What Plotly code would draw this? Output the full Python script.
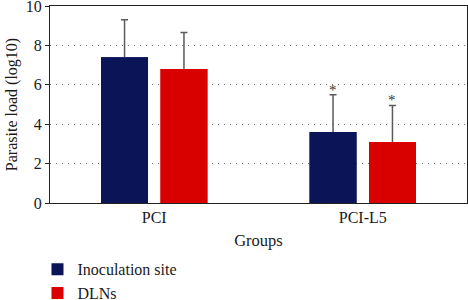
import plotly.graph_objects as go

groups = ["PCI", "PCI-L5"]
series_names = ["Inoculation site", "DLNs"]
inoculation_site = [7.4, 3.6]
inoculation_err = [1.9, 1.9]
dlns = [6.8, 3.1]
dlns_err = [1.85, 1.85]
significant = [[False, True], [False, True]]
y_ticks = [0, 2, 4, 6, 8, 10]

colors = ["#0b1457", "#d90000"]
font_family = "Liberation Serif"
bargap = 0.43
bargroupgap = 0.21

fig = go.Figure()
values = [inoculation_site, dlns]
errors = [inoculation_err, dlns_err]
# bars with error bars (lower half of error bar later hidden under overlaid bars)
for name, vals, errs, col in zip(series_names, values, errors, colors):
    fig.add_trace(go.Bar(
        x=groups, y=vals, name=name, showlegend=False,
        marker=dict(color=col, line=dict(width=0)),
        error_y=dict(type="data", array=errs, symmetric=True,
                     color="#5a5a5a", thickness=1.5, width=3.5),
        xaxis="x", yaxis="y",
    ))
# same bars drawn again on an overlaid axis so they cover the lower error bar half
for name, vals, col in zip(series_names, values, colors):
    fig.add_trace(go.Bar(
        x=groups, y=vals, name=name,
        marker=dict(color=col, line=dict(width=0)),
        xaxis="x2", yaxis="y2",
    ))

# significance asterisks above error bars
slot = (1 - bargap) / 2
for si, (vals, errs) in enumerate(zip(values, errors)):
    for gi, g in enumerate(groups):
        if significant[si][gi]:
            xpos = gi + (si - 0.5) * slot
            fig.add_annotation(x=xpos, y=vals[gi] + errs[gi], text="*",
                               xref="x2", yref="y2",
                               showarrow=False, yanchor="bottom", yshift=-5,
                               font=dict(family=font_family, size=15, color="#333333"))

fig.update_layout(
    width=468, height=300,
    margin=dict(l=50, r=1, t=6, b=97, autoexpand=False),
    paper_bgcolor="white", plot_bgcolor="white",
    barmode="group", bargap=bargap, bargroupgap=bargroupgap,
    font=dict(family=font_family, size=16, color="#1a1a1a"),
    showlegend=True,
    legend=dict(x=-0.03, y=-0.25, xanchor="left", yanchor="top",
                orientation="v", font=dict(family=font_family, size=16),
                tracegroupgap=0, itemwidth=30, bgcolor="rgba(0,0,0,0)"),
    xaxis=dict(
        title=dict(text="Groups", font=dict(family=font_family, size=16.5), standoff=9),
        showline=True, linecolor="#222222", linewidth=1, mirror=True,
        ticks="", showgrid=False, range=[-0.5, 1.5], automargin=False,
        tickfont=dict(family=font_family, size=16),
    ),
    yaxis=dict(
        title=dict(text="Parasite load (log10)", font=dict(family=font_family, size=16), standoff=4),
        range=[0, 10], tickvals=y_ticks, automargin=False,
        ticklabeloverflow="allow",
        showline=True, linecolor="#222222", linewidth=1, mirror=True,
        ticks="outside", ticklen=4, tickcolor="#222222",
        showgrid=True, gridcolor="#777777", griddash="1px,5px", gridwidth=1,
        zeroline=False,
        tickfont=dict(family=font_family, size=16),
    ),
    xaxis2=dict(overlaying="x", matches="x", visible=False, range=[-0.5, 1.5]),
    yaxis2=dict(overlaying="y", matches="y", visible=False, range=[0, 10]),
)

fig.write_html("out.html", config={"displayModeBar": False},
               post_script="document.body.style.margin='0px';")
